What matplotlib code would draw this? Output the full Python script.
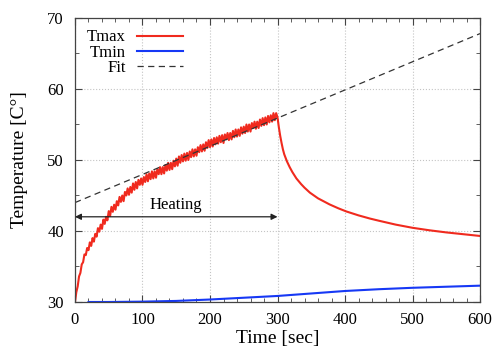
import matplotlib
matplotlib.use("Agg")
import matplotlib.pyplot as plt
from matplotlib.ticker import MultipleLocator

plt.rcParams['font.family'] = ['Liberation Serif', 'DejaVu Serif']

# Tmax, heating phase, sampled every 2 s (0..300)
heat_t = list(range(0, 301, 2))
heat_T = [
    30.0, 31.4, 32.2, 33.6, 34.1, 35.3,
    35.6, 36.7, 36.6, 37.6, 37.3, 38.4, 37.9, 39.0, 38.5, 39.6,
    39.2, 40.4, 39.9, 40.9, 40.3, 41.6, 41.0, 42.0, 41.5, 42.8,
    42.1, 43.4, 42.7, 43.7, 43.0, 44.2, 43.6, 44.8, 44.1, 45.0,
    44.2, 45.5, 45.0, 46.0, 45.1, 46.2, 45.4, 46.7, 45.8, 46.9,
    46.0, 47.2, 46.5, 47.4, 46.5, 47.6, 46.9, 48.0, 47.0, 48.1,
    47.3, 48.4, 47.4, 48.4, 47.5, 48.7, 48.0, 49.0, 48.0, 49.0,
    48.1, 49.3, 48.5, 49.6, 48.6, 49.6, 48.7, 49.9, 49.1, 50.2,
    49.2, 50.5, 49.6, 50.7, 49.8, 50.9, 49.9, 51.0, 50.0, 51.2,
    50.4, 51.5, 50.5, 51.5, 50.6, 51.8, 51.1, 52.1, 51.2, 52.2,
    51.3, 52.5, 51.7, 52.8, 51.8, 52.9, 51.9, 53.1, 52.2, 53.2,
    52.3, 53.4, 52.5, 53.5, 52.4, 53.6, 52.9, 53.8, 52.8, 53.8,
    52.9, 54.1, 53.2, 54.3, 53.3, 54.3, 53.4, 54.6, 53.7, 54.7,
    53.8, 55.0, 54.0, 55.0, 54.0, 55.2, 54.5, 55.4, 54.4, 55.4,
    54.5, 55.7, 54.8, 55.9, 54.9, 56.0, 55.0, 56.2, 55.3, 56.3,
    55.4, 56.6, 55.6, 56.6, 56.0,
]

# Tmax, cooling phase
cool_t = [302, 304, 306, 308, 310, 314, 318, 322, 328, 335, 340, 348, 360,
          377, 390, 402, 420, 437, 450, 475, 500, 525, 550, 575, 600]
cool_T = [54.6, 53.4, 52.4, 51.5, 50.8, 49.8, 49.0, 48.3, 47.4, 46.6, 46.1,
          45.4, 44.6, 43.75, 43.2, 42.75, 42.2, 41.75, 41.45, 40.9, 40.45,
          40.1, 39.8, 39.55, 39.3]

tmax_t = heat_t + cool_t
tmax_T = heat_T + cool_T

# Tmin
tmin_t = [20, 50, 100, 150, 200, 250, 300, 350, 400, 450, 500, 550, 600]
tmin_T = [30.0, 30.0, 30.05, 30.15, 30.35, 30.6, 30.85, 31.2, 31.55, 31.8,
          32.0, 32.15, 32.3]

# linear fit
fit_t = [0, 600]
fit_T = [44.0, 67.8]

heat_start, heat_end, heat_level = 0, 300, 42.0

fig = plt.figure(figsize=(4.94, 3.54), dpi=100)
ax = fig.add_axes([0.1518, 0.1469, 0.8199, 0.8023])

ax.plot(tmax_t, tmax_T, color='#f02a1e', lw=1.5, label='Tmax')
ax.plot(tmin_t, tmin_T, color='#1638f5', lw=1.5, label='Tmin')
ax.plot(fit_t, fit_T, color='#333333', lw=0.9, ls=(0, (5, 3.5)), label='Fit')

ax.annotate('', xy=(heat_end, heat_level), xytext=(heat_start, heat_level),
            arrowprops=dict(arrowstyle='<|-|>', color='#222222', lw=0.9,
                            shrinkA=0, shrinkB=0, mutation_scale=9))
ax.text((heat_start + heat_end) / 2, 43.05, 'Heating', ha='center',
        va='baseline', fontsize=12)

ax.set_xlim(0, 600)
ax.set_ylim(30, 70)
ax.xaxis.set_major_locator(MultipleLocator(100))
ax.xaxis.set_minor_locator(MultipleLocator(20))
ax.yaxis.set_major_locator(MultipleLocator(10))
ax.yaxis.set_minor_locator(MultipleLocator(5))
ax.tick_params(which='both', direction='in', top=True, right=True,
               labelsize=12, color='#444444')
ax.tick_params(which='major', length=5, width=0.8)
ax.tick_params(which='minor', length=3, width=0.6)
ax.tick_params(axis='x', pad=7)
ax.tick_params(axis='y', pad=8)
ax.grid(True, which='major', color='#c4c4c4', ls=':', lw=0.8)
for s in ax.spines.values():
    s.set_color('#444444')
    s.set_linewidth(0.9)

ax.set_xlabel('Time [sec]', fontsize=14)
ax.set_ylabel('Temperature [C°]', fontsize=14)
ax.xaxis.set_label_coords(0.5, -0.10)
ax.yaxis.set_label_coords(-0.115, 0.5)

ax.legend(loc='upper left', frameon=False, markerfirst=False, fontsize=12,
          handlelength=2.8, handletextpad=0.65, labelspacing=-0.05,
          borderaxespad=0.2, bbox_to_anchor=(0.005, 0.995))

fig.savefig('out.png', dpi=100)
